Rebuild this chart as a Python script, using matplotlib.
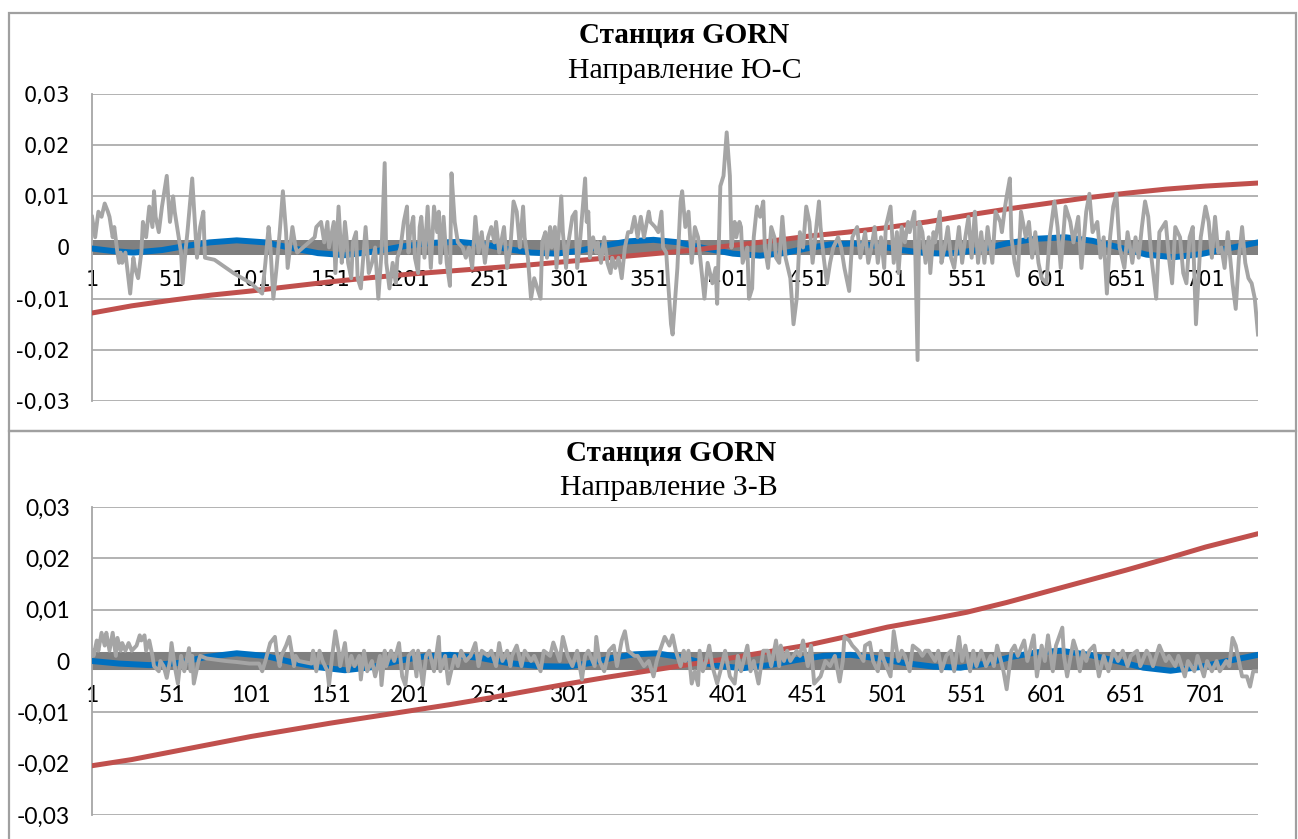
import matplotlib.pyplot as plt
from matplotlib.patches import Rectangle

W, H = 1298, 839

xtick_pos = [1, 51, 101, 151, 201, 251, 301, 351, 401, 451, 501, 551, 601, 651, 701]
ytick_pos = [-0.03, -0.02, -0.01, 0, 0.01, 0.02, 0.03]
ytick_lbl = ['-0,03', '-0,02', '-0,01', '0', '0,01', '0,02', '0,03']
n_last = 734

# ---- top panel: direction S-N ----
title_top = 'Направление Ю-С'
red_top = [(1, -0.0128), (26, -0.0114), (51, -0.0103), (76, -0.0093), (101, -0.0085),
           (126, -0.0076), (151, -0.0067), (176, -0.0059), (201, -0.0052), (226, -0.0046),
           (251, -0.0040), (276, -0.0034), (301, -0.0027), (326, -0.0020), (351, -0.0013),
           (376, -0.0006), (401, 0.0003), (426, 0.0012), (451, 0.0022), (476, 0.0030),
           (501, 0.0039), (526, 0.0050), (551, 0.0063), (576, 0.0075), (601, 0.0086),
           (626, 0.0097), (651, 0.0106), (676, 0.0114), (701, 0.0120), (734, 0.0126)]
blue_top = [(1, -0.0002), (14, -0.0007), (27, -0.0010), (45, -0.0005), (60, 0.0003),
            (75, 0.0010), (92, 0.0014), (110, 0.0010), (125, 0.0), (143, -0.0011),
            (160, -0.0015), (178, -0.0008), (196, 0.0002), (214, 0.0009), (232, 0.0011),
            (248, 0.0006), (262, -0.0003), (277, -0.0010), (293, -0.0012), (308, -0.0006),
            (323, 0.0004), (338, 0.0012), (354, 0.0015), (370, 0.0010), (387, -0.0002),
            (404, -0.0012), (421, -0.0016), (436, -0.0011), (450, -0.0002), (465, 0.0006),
            (480, 0.0008), (495, 0.0003), (510, -0.0005), (525, -0.0011), (540, -0.0012),
            (558, -0.0005), (576, 0.0008), (594, 0.0017), (613, 0.0020), (630, 0.0013),
            (647, 0.0), (664, -0.0014), (681, -0.0019), (698, -0.0013), (715, -0.0002),
            (734, 0.0010)]
gray_top = [(1, 0.006), (3, 0.002), (5, 0.007), (7, 0.006), (9, 0.0086), (11, 0.007), (12, 0.006),
            (14, 0.002), (15, 0.004), (17, -0.001), (18, -0.003), (19, -0.001), (20, -0.003),
            (22, -0.001), (25, -0.009), (27, -0.002), (28, -0.004), (30, -0.006), (32, -0.001),
            (33, 0.005), (35, 0.002), (37, 0.008), (39, 0.004), (40, 0.011), (41, 0.006),
            (43, 0.003), (45, 0.008), (46, 0.010), (48, 0.014), (50, 0.005), (52, 0.010),
            (53, 0.007), (55, 0.003), (57, -0.001), (58, -0.007), (60, 0.0), (61, 0.003),
            (63, 0.010), (64, 0.0135), (66, 0.003), (67, -0.002), (69, 0.004), (71, 0.007),
            (72, -0.002), (78, -0.0024), (90, -0.005), (101, -0.007), (108, -0.009),
            (110, -0.003), (112, 0.004), (113, 0.001), (115, -0.010), (117, -0.004),
            (119, 0.003), (121, 0.011), (123, 0.003), (124, -0.004), (127, 0.004), (129, 0.0),
            (130, -0.001), (141, 0.002), (142, 0.004), (145, 0.005), (147, 0.001), (149, 0.005),
            (150, 0.0), (153, 0.005), (154, -0.005), (156, 0.008), (158, -0.003), (159, 0.0),
            (160, 0.005), (161, 0.002), (162, -0.003), (164, -0.006), (165, 0.001), (167, 0.003),
            (168, -0.006), (170, -0.008), (172, 0.0), (173, 0.004), (175, -0.005), (177, -0.003),
            (179, 0.0), (181, -0.010), (183, -0.001), (185, 0.0165), (186, -0.003),
            (188, -0.008), (190, -0.003), (192, -0.007), (193, -0.002), (195, 0.0), (197, 0.005),
            (199, 0.008), (200, -0.001), (201, 0.003), (203, 0.006), (204, -0.002),
            (206, -0.005), (207, 0.004), (208, 0.006), (210, -0.002), (212, 0.008),
            (214, -0.004), (216, 0.008), (218, 0.003), (219, 0.007), (220, -0.003),
            (222, 0.006), (224, -0.003), (226, -0.0075), (227, 0.0145), (229, 0.005),
            (231, 0.001), (234, 0.0), (236, -0.002), (238, 0.0), (240, -0.004), (242, 0.006),
            (244, -0.001), (246, 0.003), (248, -0.003), (250, 0.002), (252, 0.004), (254, 0.001),
            (255, 0.005), (257, -0.001), (260, 0.004), (262, -0.004), (264, 0.0), (266, 0.009),
            (268, 0.007), (270, 0.0), (272, 0.008), (273, 0.002), (275, -0.002), (277, -0.010),
            (279, -0.006), (281, -0.008), (283, -0.010), (284, 0.001), (286, 0.003),
            (287, -0.002), (289, 0.004), (290, 0.0), (292, 0.004), (293, -0.004), (296, 0.010),
            (297, 0.003), (299, -0.004), (300, 0.0), (303, 0.006), (305, 0.007), (306, -0.004),
            (308, 0.002), (311, 0.0135), (312, 0.005), (313, 0.007), (314, -0.002), (316, 0.002),
            (318, -0.001), (319, 0.001), (321, -0.003), (323, 0.002), (325, -0.003),
            (327, -0.005), (328, -0.002), (330, -0.004), (332, -0.002), (334, -0.006),
            (336, 0.0), (338, 0.003), (340, 0.003), (342, 0.006), (344, 0.002), (346, 0.006),
            (348, 0.002), (351, 0.007), (352, 0.005), (355, 0.004), (357, 0.003), (359, 0.007),
            (360, 0.0), (362, -0.001), (363, -0.006), (365, -0.015), (366, -0.017),
            (369, -0.004), (371, 0.009), (372, 0.011), (374, 0.004), (376, 0.007),
            (378, -0.003), (380, 0.004), (382, 0.002), (384, -0.004), (386, -0.010),
            (388, -0.003), (391, -0.007), (393, -0.004), (394, -0.011), (395, 0.0),
            (396, 0.012), (398, 0.014), (400, 0.0225), (402, 0.014), (403, 0.0), (405, 0.005),
            (406, 0.002), (408, 0.005), (409, 0.004), (410, -0.003), (413, 0.0), (414, -0.010),
            (416, -0.008), (417, 0.002), (419, 0.008), (421, 0.006), (423, 0.009), (424, 0.0),
            (426, -0.004), (428, 0.004), (430, 0.002), (431, -0.002), (433, -0.003),
            (435, 0.006), (437, -0.002), (440, -0.006), (442, -0.015), (444, -0.010),
            (446, 0.003), (448, 0.0), (450, 0.008), (452, 0.005), (454, -0.003), (458, 0.009),
            (459, 0.004), (461, -0.002), (463, -0.007), (465, -0.003), (467, 0.0), (470, 0.002),
            (472, 0.0), (474, -0.004), (477, -0.0085), (479, 0.002), (482, 0.004),
            (484, -0.002), (487, 0.003), (489, -0.003), (491, 0.0), (493, 0.004),
            (495, -0.003), (497, 0.002), (499, -0.004), (500, 0.004), (503, 0.008),
            (505, -0.003), (507, 0.003), (508, -0.005), (510, 0.004), (512, 0.001),
            (514, 0.005), (515, 0.003), (518, 0.007), (520, -0.022), (521, 0.005), (523, 0.003),
            (525, -0.003), (527, 0.002), (528, -0.005), (530, 0.003), (531, 0.001), (534, 0.007),
            (535, -0.003), (537, 0.0), (539, 0.004), (541, -0.002), (543, -0.004), (546, 0.004),
            (548, -0.003), (550, 0.002), (552, 0.006), (554, -0.002), (556, 0.007),
            (558, -0.003), (560, 0.003), (562, -0.003), (564, 0.004), (567, -0.003),
            (569, 0.007), (572, 0.005), (573, 0.003), (575, 0.008), (576, 0.010), (578, 0.0135),
            (579, 0.002), (581, -0.003), (583, -0.0055), (585, 0.007), (588, 0.002),
            (590, 0.005), (592, -0.002), (594, 0.003), (596, -0.003), (598, -0.006),
            (601, -0.007), (603, 0.002), (606, 0.009), (608, 0.004), (610, -0.004),
            (613, 0.008), (616, 0.005), (618, 0.001), (621, 0.006), (623, -0.004), (626, 0.007),
            (628, 0.0105), (630, 0.003), (633, 0.005), (635, -0.002), (637, 0.002),
            (639, -0.009), (641, 0.002), (643, 0.008), (645, 0.0105), (647, 0.0), (650, -0.004),
            (652, 0.003), (655, -0.003), (657, 0.002), (659, -0.002), (661, 0.004), (663, 0.009),
            (665, 0.006), (667, -0.002), (670, -0.010), (672, 0.003), (676, 0.005),
            (678, -0.002), (680, -0.007), (682, 0.004), (685, 0.002), (687, -0.005),
            (689, -0.007), (691, 0.002), (693, 0.004), (695, -0.015), (698, 0.002), (701, 0.008),
            (703, 0.005), (705, -0.002), (707, 0.006), (709, -0.001), (711, 0.0), (713, -0.004),
            (715, 0.003), (718, -0.007), (720, -0.012), (722, -0.002), (724, 0.004),
            (726, -0.003), (728, -0.006), (730, -0.007), (732, -0.010), (734, -0.017)]

# ---- bottom panel: direction W-E ----
title_bot = 'Направление З-В'
red_bot = [(1, -0.0204), (26, -0.0192), (51, -0.0177), (76, -0.0162), (101, -0.0147),
           (126, -0.0134), (151, -0.0121), (176, -0.0109), (201, -0.0097), (226, -0.0085),
           (251, -0.0072), (276, -0.0058), (301, -0.0044), (326, -0.0031), (351, -0.0019),
           (376, -0.0007), (401, 0.0005), (426, 0.0018), (451, 0.0031), (476, 0.0048),
           (501, 0.0066), (526, 0.0080), (551, 0.0095), (576, 0.0114), (601, 0.0135),
           (626, 0.0156), (651, 0.0177), (676, 0.0199), (701, 0.0222), (734, 0.0248)]
blue_bot = [(1, 0.0), (18, -0.0005), (37, -0.0008), (55, -0.0004), (73, 0.0008), (92, 0.0015),
            (110, 0.0010), (126, -0.0002), (143, -0.0012), (160, -0.0018), (177, -0.0012),
            (193, 0.0), (210, 0.0009), (226, 0.0012), (245, 0.0006), (263, -0.0004),
            (282, -0.0010), (300, -0.0011), (314, -0.0004), (328, 0.0006), (342, 0.0013),
            (356, 0.0015), (370, 0.0008), (383, -0.0002), (396, -0.0010), (410, -0.0014),
            (427, -0.0008), (444, 0.0002), (461, 0.0010), (478, 0.0012), (495, 0.0005),
            (512, -0.0004), (530, -0.0011), (547, -0.0013), (563, -0.0005), (579, 0.0008),
            (595, 0.0017), (610, 0.0020), (628, 0.0012), (645, 0.0), (662, -0.0013),
            (679, -0.0019), (697, -0.0012), (715, 0.0), (734, 0.0012)]
gray_bot = [(1, 0.002), (2, 0.001), (4, 0.004), (5, 0.002), (7, 0.0055), (9, 0.003), (10, 0.0055),
            (12, 0.002), (14, 0.0055), (16, 0.001), (17, 0.0045), (19, 0.002), (20, 0.0035),
            (22, 0.002), (24, 0.0035), (26, 0.002), (29, 0.003), (31, 0.005), (32, 0.004),
            (34, 0.005), (35, 0.002), (37, 0.004), (39, 0.001), (40, -0.001), (43, -0.002),
            (44, 0.0), (46, -0.001), (48, -0.0033), (50, 0.0), (51, 0.0035), (53, -0.001),
            (55, -0.0044), (57, 0.001), (59, -0.002), (62, 0.0025), (63, -0.002), (64, 0.001),
            (65, -0.0044), (68, 0.0), (69, 0.001), (73, 0.0005), (85, 0.0), (92, -0.0002),
            (100, -0.0005), (106, -0.0005), (108, -0.002), (110, 0.0), (113, 0.0035),
            (116, 0.0047), (117, 0.002), (119, -0.001), (120, 0.001), (123, 0.003),
            (125, 0.0047), (128, -0.001), (129, 0.001), (131, 0.0), (139, -0.0005), (140, 0.002),
            (142, -0.002), (144, 0.002), (146, 0.0), (149, -0.002), (150, -0.0047), (152, 0.001),
            (154, 0.0058), (156, 0.002), (157, -0.001), (160, 0.0035), (162, -0.002),
            (164, 0.001), (166, -0.001), (169, 0.001), (170, -0.0036), (172, 0.002),
            (174, -0.002), (177, 0.0), (179, -0.003), (182, 0.001), (183, -0.0047), (185, 0.002),
            (186, -0.001), (189, 0.002), (191, 0.0), (194, 0.0035), (196, -0.003),
            (198, -0.0047), (200, 0.001), (203, 0.002), (205, -0.003), (206, 0.002),
            (209, -0.0047), (211, 0.001), (213, 0.002), (216, -0.002), (219, 0.0047),
            (220, -0.002), (223, 0.001), (225, -0.0044), (229, 0.001), (231, -0.001),
            (233, 0.002), (236, 0.0), (239, 0.001), (242, 0.0035), (244, -0.001), (246, 0.002),
            (250, 0.001), (252, 0.002), (255, -0.001), (257, 0.0035), (259, 0.0), (262, 0.002),
            (264, -0.001), (265, 0.001), (268, 0.003), (271, -0.001), (273, 0.002), (277, 0.0),
            (279, 0.001), (283, -0.002), (285, 0.002), (289, 0.001), (291, 0.0036), (295, 0.0),
            (297, 0.0047), (300, 0.001), (303, -0.001), (306, 0.002), (309, -0.0036),
            (311, 0.001), (313, 0.002), (317, -0.001), (318, 0.0047), (320, 0.0), (323, -0.002),
            (326, 0.002), (329, 0.003), (331, -0.001), (334, 0.004), (336, 0.0058), (338, 0.002),
            (342, 0.001), (344, 0.001), (348, -0.001), (351, 0.0), (354, -0.003), (356, 0.0),
            (358, 0.002), (361, 0.0047), (364, 0.003), (366, 0.005), (368, 0.002), (369, 0.001),
            (371, -0.001), (373, 0.002), (374, 0.0), (376, 0.002), (378, -0.0044),
            (380, -0.002), (382, -0.0047), (383, 0.002), (385, -0.002), (387, 0.0), (389, 0.003),
            (391, -0.001), (394, -0.0044), (396, -0.002), (399, 0.002), (402, -0.003),
            (405, -0.0044), (407, 0.001), (409, -0.002), (413, 0.003), (415, -0.002),
            (417, 0.0), (420, -0.0044), (423, 0.002), (426, 0.002), (428, -0.001), (431, 0.004),
            (433, -0.001), (434, 0.003), (436, 0.0), (438, 0.002), (440, 0.0), (444, 0.002),
            (446, 0.001), (448, 0.004), (451, -0.001), (453, 0.003), (455, -0.0044),
            (459, -0.003), (460, -0.002), (462, 0.0), (465, -0.001), (468, 0.001),
            (471, -0.0040), (473, 0.0), (474, 0.0047), (477, 0.004), (479, 0.003), (482, 0.002),
            (484, 0.001), (486, 0.0), (487, 0.003), (490, 0.0036), (492, 0.0), (495, -0.002),
            (497, 0.002), (499, 0.0), (503, -0.003), (505, 0.0058), (508, 0.0), (510, 0.002),
            (512, 0.001), (515, -0.002), (517, 0.003), (521, 0.002), (523, 0.001), (525, 0.002),
            (527, 0.002), (529, 0.001), (531, 0.0), (533, 0.002), (535, -0.002), (538, 0.001),
            (541, 0.002), (543, -0.002), (546, 0.0047), (548, 0.0), (550, 0.003), (553, -0.002),
            (555, 0.002), (557, -0.001), (560, 0.002), (563, -0.001), (566, 0.001),
            (568, -0.001), (570, 0.003), (574, -0.002), (576, -0.0055), (579, 0.002),
            (581, 0.003), (583, 0.001), (587, 0.004), (589, 0.0), (593, 0.005), (595, -0.003),
            (598, 0.003), (600, 0.0), (602, 0.005), (605, -0.002), (607, 0.003), (611, 0.0065),
            (612, 0.001), (614, -0.003), (618, 0.004), (620, 0.002), (622, -0.002), (624, 0.002),
            (626, 0.0), (628, 0.002), (631, 0.003), (634, -0.003), (637, 0.001), (640, -0.002),
            (643, 0.002), (646, 0.0), (649, 0.002), (652, -0.001), (654, 0.001), (658, 0.002),
            (660, -0.001), (664, 0.002), (666, 0.001), (668, -0.001), (670, 0.001), (672, 0.003),
            (676, 0.0), (678, 0.001), (682, -0.001), (684, 0.001), (688, -0.003), (690, 0.0),
            (694, -0.002), (696, 0.001), (700, -0.003), (702, 0.0), (705, -0.002), (708, 0.0),
            (710, -0.002), (714, 0.0), (716, -0.001), (718, 0.0045), (720, 0.003), (722, 0.0),
            (724, -0.003), (727, -0.003), (729, -0.005), (731, -0.002), (734, -0.002)]
zero_line = [(1, 0.0), (n_last, 0.0)]

station = 'Станция GORN'
GRID = '#A6A6A6'


def draw_panel(ax, red, blue, gray, band_lw, font, fsize, pad_x):
    ax.set_xlim(1, n_last)
    ax.set_ylim(-0.03, 0.03)
    for s in ('top', 'right'):
        ax.spines[s].set_visible(False)
    ax.spines['left'].set_color(GRID)
    ax.spines['left'].set_linewidth(1.3)
    ax.spines['bottom'].set_position(('data', 0))
    ax.spines['bottom'].set_visible(False)
    ax.set_yticks(ytick_pos)
    ax.set_yticklabels(ytick_lbl)
    ax.set_xticks(xtick_pos)
    ax.set_xticklabels([str(v) for v in xtick_pos])
    ax.grid(axis='y', color=GRID, lw=1.2)
    ax.set_axisbelow(True)
    ax.tick_params(axis='y', length=0, pad=16, labelsize=fsize, labelfontfamily=font)
    ax.tick_params(axis='x', length=0, pad=pad_x, labelsize=fsize, labelfontfamily=font)

    zx, zy = zip(*zero_line)
    ax.plot(zx, zy, color='#808080', lw=band_lw, solid_capstyle='butt', zorder=2)
    bx, by = zip(*blue)
    ax.plot(bx, by, color='#0070C0', lw=4.3, solid_capstyle='round', zorder=3)
    rx, ry = zip(*red)
    ax.plot(rx, ry, color='#C0504D', lw=3.6, solid_capstyle='round', zorder=4)
    gx, gy = zip(*gray)
    ax.plot(gx, gy, color='#A5A5A5', lw=2.8, solid_joinstyle='round', zorder=5)


fig = plt.figure(figsize=(W / 100, H / 100), dpi=100)

ax1 = fig.add_axes([92 / W, 1 - 401 / H, 1166 / W, 307 / H])
draw_panel(ax1, red_top, blue_top, gray_top, 10.8, 'DejaVu Sans', 15, 16)
ax2 = fig.add_axes([92 / W, 1 - 815 / H, 1166 / W, 308 / H])
draw_panel(ax2, red_bot, blue_bot, gray_bot, 13, 'Lato', 16.5, 17)

# chart frames
fig.add_artist(Rectangle((9 / W, 1 - 431 / H), 1287 / W, 418 / H, transform=fig.transFigure,
                         fill=False, ec='#A0A0A0', lw=1.6))
fig.add_artist(Rectangle((9 / W, -0.05), 1287 / W, 1 - 431 / H + 0.05, transform=fig.transFigure,
                         fill=False, ec='#A0A0A0', lw=1.6))

fig.text(684 / W, 1 - 36 / H, station, family='Liberation Serif', weight='bold', size=21,
         ha='center', va='center')
fig.text(685 / W, 1 - 71 / H, title_top, family='Liberation Serif', size=21.5,
         ha='center', va='center')
fig.text(671 / W, 1 - 453 / H, station, family='Liberation Serif', weight='bold', size=21,
         ha='center', va='center')
fig.text(669 / W, 1 - 488 / H, title_bot, family='Liberation Serif', size=21.5,
         ha='center', va='center')

fig.savefig('out.png', dpi=100)
